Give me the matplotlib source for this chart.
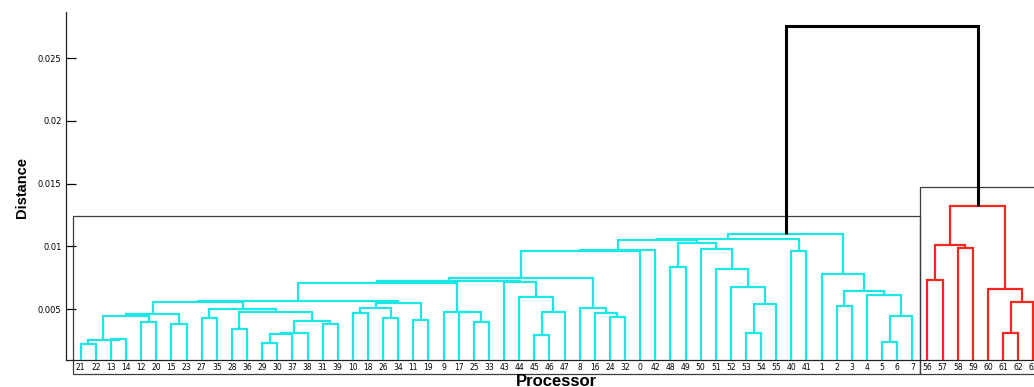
import matplotlib
matplotlib.use("Agg")
import matplotlib.pyplot as plt
from matplotlib.patches import Rectangle

# Hierarchical clustering of 64 processors.
# Ids 0-63 are processors; the k-th merge below creates cluster id 64 + k.
merge_left = [21, 13, 64, 12, 66, 15, 68, 27, 28, 29, 73, 74, 31, 75, 72, 71,
              70, 10, 26, 81, 11, 83, 80, 25, 17, 9, 86, 45, 91, 44, 43, 90,
              24, 16, 8, 95, 99, 100, 48, 53, 103, 52, 51, 50, 102, 101, 40,
              109, 5, 112, 4, 2, 115, 1, 111, 56, 58, 119, 61, 122, 60, 121,
              118]
merge_right = [22, 14, 65, 20, 67, 23, 69, 35, 36, 30, 37, 38, 39, 76, 77, 78,
               79, 18, 34, 82, 19, 84, 85, 33, 87, 88, 89, 46, 47, 92, 93, 94,
               32, 96, 97, 98, 0, 42, 49, 54, 55, 104, 105, 106, 107, 108, 41,
               110, 6, 7, 113, 3, 114, 116, 117, 57, 59, 120, 62, 63, 123, 124,
               125]
merge_height = [0.00219, 0.00261, 0.00253, 0.00394, 0.00447, 0.00380, 0.00458,
                0.00431, 0.00338, 0.00229, 0.00305, 0.00309, 0.00380, 0.00404,
                0.00474, 0.00500, 0.00553, 0.00466, 0.00431, 0.00506, 0.00416,
                0.00545, 0.00564, 0.00399, 0.00474, 0.00478, 0.00705, 0.00293,
                0.00474, 0.00593, 0.00713, 0.00723, 0.00439, 0.00471, 0.00506,
                0.00745, 0.00962, 0.00970, 0.00837, 0.00306, 0.00540, 0.00673,
                0.00816, 0.00978, 0.01024, 0.01050, 0.00962, 0.01055, 0.00239,
                0.00444, 0.00612, 0.00525, 0.00647, 0.00776, 0.01098, 0.00731,
                0.00988, 0.01010, 0.00306, 0.00558, 0.00657, 0.01321, 0.02755]

y_ticks = [0.005, 0.01, 0.015, 0.02, 0.025]
y_tick_labels = ["0.005", "0.01", "0.015", "0.02", "0.025"]

n_leaves = 64
color_threshold = 0.015
cluster_colors = ["#1de6e6", "#f0281e"]
above_color = "black"
box_tops = [0.0124, 0.0147]

children = {n_leaves + k: (merge_left[k], merge_right[k]) for k in range(len(merge_left))}
height = {n_leaves + k: merge_height[k] for k in range(len(merge_left))}
root = n_leaves + len(merge_left) - 1

# leaf order and x positions (1..n, as in a classic dendrogram)
order = []
def walk(node):
    if node < n_leaves:
        order.append(node)
    else:
        a, b = children[node]
        walk(a)
        walk(b)
walk(root)
xpos = {leaf: i + 1 for i, leaf in enumerate(order)}

def place(node):
    if node < n_leaves:
        return xpos[node]
    a, b = children[node]
    xpos[node] = (place(a) + place(b)) / 2
    return xpos[node]
place(root)

def h(node):
    return 0.0 if node < n_leaves else height[node]

# colour each sub-tree whose root lies below the threshold
node_color = {}
clusters = []
def assign(node, color):
    node_color[node] = color
    if node >= n_leaves:
        for c in children[node]:
            assign(c, color)
def find_clusters(node):
    if node < n_leaves or height[node] < color_threshold:
        col = cluster_colors[len(clusters) % len(cluster_colors)]
        clusters.append(node)
        assign(node, col)
    else:
        node_color[node] = above_color
        for c in children[node]:
            find_clusters(c)
find_clusters(root)

def leaves_of(node):
    if node < n_leaves:
        return [node]
    a, b = children[node]
    return leaves_of(a) + leaves_of(b)

fig = plt.figure(figsize=(10.34, 3.87), dpi=100)
ax = fig.add_axes([65.6 / 1034, 27 / 387, 982.8 / 1034, 348 / 387])

for node in range(n_leaves, root + 1):
    a, b = children[node]
    xa, xb, hn = xpos[a], xpos[b], height[node]
    col = node_color[node]
    lw = 2.2 if col == above_color else 1.6
    ax.plot([xa, xa, xb, xb], [h(a), hn, hn, h(b)], color=col, lw=lw,
            solid_joinstyle="miter", solid_capstyle="butt", zorder=3)

# frames around the clusters, reaching down over the leaf labels
for node, top in zip(clusters, box_tops):
    xs = [xpos[l] for l in leaves_of(node)]
    x0, x1 = min(xs) - 0.5, max(xs) + 0.5
    ax.add_patch(Rectangle((x0, -0.00018), x1 - x0, top + 0.00018, fill=False,
                           ec="#3c3c3c", lw=0.9, clip_on=False, zorder=2))

ax.set_xlim(0, n_leaves + 1)
ax.set_ylim(0.00094, 0.02867)
ax.set_xticks(range(1, n_leaves + 1))
ax.set_xticklabels([str(l) for l in order], fontsize=5.5)
ax.tick_params(axis="x", length=0, pad=2.5)
ax.set_yticks(y_ticks)
ax.set_yticklabels(y_tick_labels, fontsize=6)
ax.tick_params(axis="y", direction="in", length=7, width=0.9, pad=3)
for s in ("top", "right"):
    ax.spines[s].set_visible(False)
for s in ("left", "bottom"):
    ax.spines[s].set_linewidth(0.9)
    ax.spines[s].set_color("#222222")

fig.text(22 / 1034, 1 - 188 / 387, "Distance", rotation=90, ha="center",
         va="center", fontsize=10.5, fontweight="bold",
         family=["Liberation Sans", "DejaVu Sans"])
fig.text(556.5 / 1034, 1 - 385.5 / 387, "Processor", ha="center", va="baseline",
         fontsize=12, fontweight="bold", family=["Liberation Sans", "DejaVu Sans"])

fig.savefig("out.png", dpi=100)
